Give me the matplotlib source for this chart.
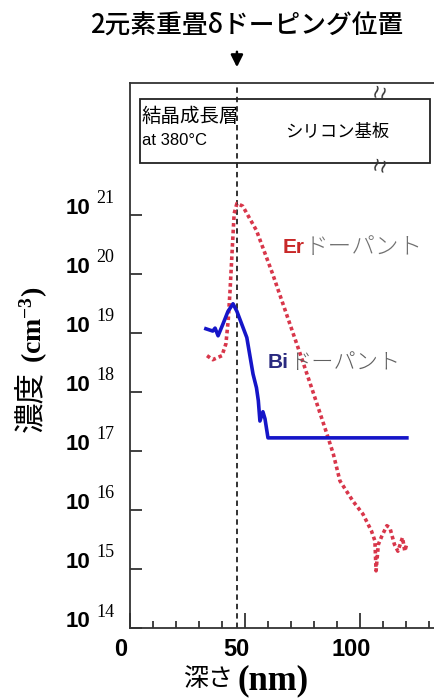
import matplotlib
matplotlib.use('Agg')
import matplotlib.pyplot as plt
import numpy as np
from matplotlib.patches import Rectangle
from matplotlib.ticker import FixedLocator, MultipleLocator, NullLocator
from matplotlib.transforms import ScaledTranslation

plt.rcParams['mathtext.default'] = 'regular'

CJK = ['Noto Sans CJK JP', 'DejaVu Sans']

# Er profile (depth nm, concentration cm^-3)
er_depth = [33.5, 36, 40, 41.7, 42.7, 43.5, 44.5, 45.3, 46.5, 49, 55, 62, 68, 74,
            80, 85.6, 88.4, 91.3, 97, 101.3, 105, 106.5, 107, 108, 109.5, 111.7,
            113, 115, 116.5, 118.5, 119.5, 120.3]
er_conc = [4.1e18, 3.5e18, 4.1e18, 6.5e18, 1.6e19, 5.1e19, 2.8e20, 1.05e21, 1.55e21,
           1.4e21, 5.4e20, 1.0e20, 2.1e19, 4.4e18, 8.9e17, 1.95e17, 8.9e16, 3.1e16,
           1.4e16, 8.5e15, 4.4e15, 3.0e15, 9.3e14, 2.6e15, 3.6e15, 5.4e15, 5.0e15,
           2.6e15, 2.0e15, 3.4e15, 2.0e15, 2.6e15]

# Bi profile
bi_depth = [33, 36, 37, 38.3, 40.4, 42.6, 44.8, 46.5, 50.8, 53.5, 55, 55.8, 56.5,
            57.8, 58.7, 60, 120.4]
bi_conc = [1.17e19, 1.07e19, 1.2e19, 8.9e18, 1.4e19, 2.3e19, 3.1e19, 2.3e19, 8.3e18,
           2.0e18, 1.17e18, 7.1e17, 3.2e17, 4.6e17, 3.5e17, 1.66e17, 1.66e17]

delta_pos = 46.5
x_major = [0, 50, 100]
x_labels = ['0', '50', '100']
y_exponents = [14, 15, 16, 17, 18, 19, 20, 21]

fig = plt.figure(figsize=(4.34, 7), dpi=100)
ax = fig.add_axes([130/434, 72/700, 304/434, 545/700])
ax.set_yscale('log')
ax.set_xlim(0, 132.2)
ax.set_ylim(1e14, 1.7e23)

for side in ['top', 'left', 'bottom']:
    ax.spines[side].set_linewidth(1.3)
    ax.spines[side].set_color('#333333')
ax.spines['right'].set_visible(False)

ax.axvline(delta_pos, color='#222222', lw=1.3, dashes=(3, 2.2))

ax.plot(er_depth, er_conc, color='#d8364a', lw=2.6, linestyle=(0, (1, 0.85)))
ax.plot(bi_depth, bi_conc, color='#1515c8', lw=2.6)

# x ticks
ax.xaxis.set_major_locator(FixedLocator(x_major))
ax.xaxis.set_minor_locator(MultipleLocator(10))
ax.set_xticklabels(x_labels, fontsize=17, fontweight='bold', family='Liberation Sans')
ax.tick_params(axis='x', which='major', direction='in', length=11, width=1.3,
               color='#333333', pad=7)
ax.tick_params(axis='x', which='minor', direction='in', length=5, width=1.3,
               color='#333333')
shift = ScaledTranslation(-9/100, 0, fig.dpi_scale_trans)
for lab in ax.get_xticklabels():
    lab.set_transform(lab.get_transform() + shift)

# y ticks, labels drawn by hand (10 in sans bold, exponent in serif)
ax.yaxis.set_major_locator(FixedLocator([10.0**e for e in y_exponents]))
ax.yaxis.set_minor_locator(NullLocator())
ax.set_yticklabels([])
ax.tick_params(axis='y', direction='in', length=8.6, width=1.3, color='#333333')
for e in y_exponents:
    ax.annotate('10', xy=(0, 10.0**e), xycoords=('axes fraction', 'data'),
                xytext=(-28.5, 4.5), textcoords='offset points', ha='right', va='center',
                fontsize=16, fontweight='bold', family='Liberation Sans', annotation_clip=False)
    ax.annotate(str(e), xy=(0, 10.0**e), xycoords=('axes fraction', 'data'),
                xytext=(-24, 11.5), textcoords='offset points', ha='left', va='center',
                fontsize=13, family='Liberation Serif', annotation_clip=False)

# layer box
ax.add_patch(Rectangle((10/304, 0.853), 290/304, 0.117, transform=ax.transAxes,
                       fill=False, lw=1.3, ec='#222222'))
ax.text(0.039, 0.938, '結晶成長層', transform=ax.transAxes, ha='left', va='center',
        fontsize=14, family=CJK)
ax.text(0.039, 0.895, 'at 380°C', transform=ax.transAxes, ha='left', va='center',
        fontsize=12, family='Liberation Sans')
ax.text(0.681, 0.910, 'シリコン基板', transform=ax.transAxes, ha='center', va='center',
        fontsize=12.5, family=CJK)
for yy in [0.980, 0.846]:
    ax.text(0.822, yy, '≀≀', transform=ax.transAxes, ha='center', va='center',
            fontsize=14, rotation=-15, color='#333333')

# dopant labels
er_txt = ax.text(66.5, 2.75e20, 'Er', color='#c82828', fontsize=15, fontweight='bold',
                 family='Liberation Sans', ha='left', va='center')
ax.annotate('ドーパント', xy=(1, 0.5), xycoords=er_txt, ha='left', va='center',
            fontsize=17, color='#707070', family=CJK, fontweight='light')
bi_txt = ax.text(60, 3.1e18, 'Bi', color='#2a2a80', fontsize=15, fontweight='bold',
                 family='Liberation Sans', ha='left', va='center')
ax.annotate('ドーパント', xy=(1, 0.5), xycoords=bi_txt, ha='left', va='center',
            fontsize=16, color='#606060', family=CJK, fontweight='light')

# title and arrow
fig.text(247/434, 1 - 26/700, '2元素重畳δドーピング位置', ha='center', va='center',
         fontsize=18.5, family=CJK, fontweight='medium')
ax.annotate('', xy=(delta_pos, 1 - 70/700), xycoords=('data', 'figure fraction'),
            xytext=(delta_pos, 1 - 49/700), textcoords=('data', 'figure fraction'),
            arrowprops=dict(arrowstyle='-|>', color='black', lw=1.8, mutation_scale=18),
            annotation_clip=False)

# axis labels
fig.text(233/434, 1 - 679/700, '深さ', ha='right', va='center', fontsize=18, family=CJK)
fig.text(238/434, 1 - 681/700, '(nm)', ha='left', va='center', fontsize=25,
         fontweight='bold', family='Liberation Serif')
fig.text(31/434, 1 - 402/700, '濃度', rotation=90, ha='center', va='center',
         fontsize=22, family=CJK)
fig.text(34/434, 1 - 325/700, '(cm$^{-3}$)', rotation=90, ha='center', va='center',
         fontsize=20, fontweight='bold', family='Liberation Serif')

fig.savefig('out.png', dpi=100)
